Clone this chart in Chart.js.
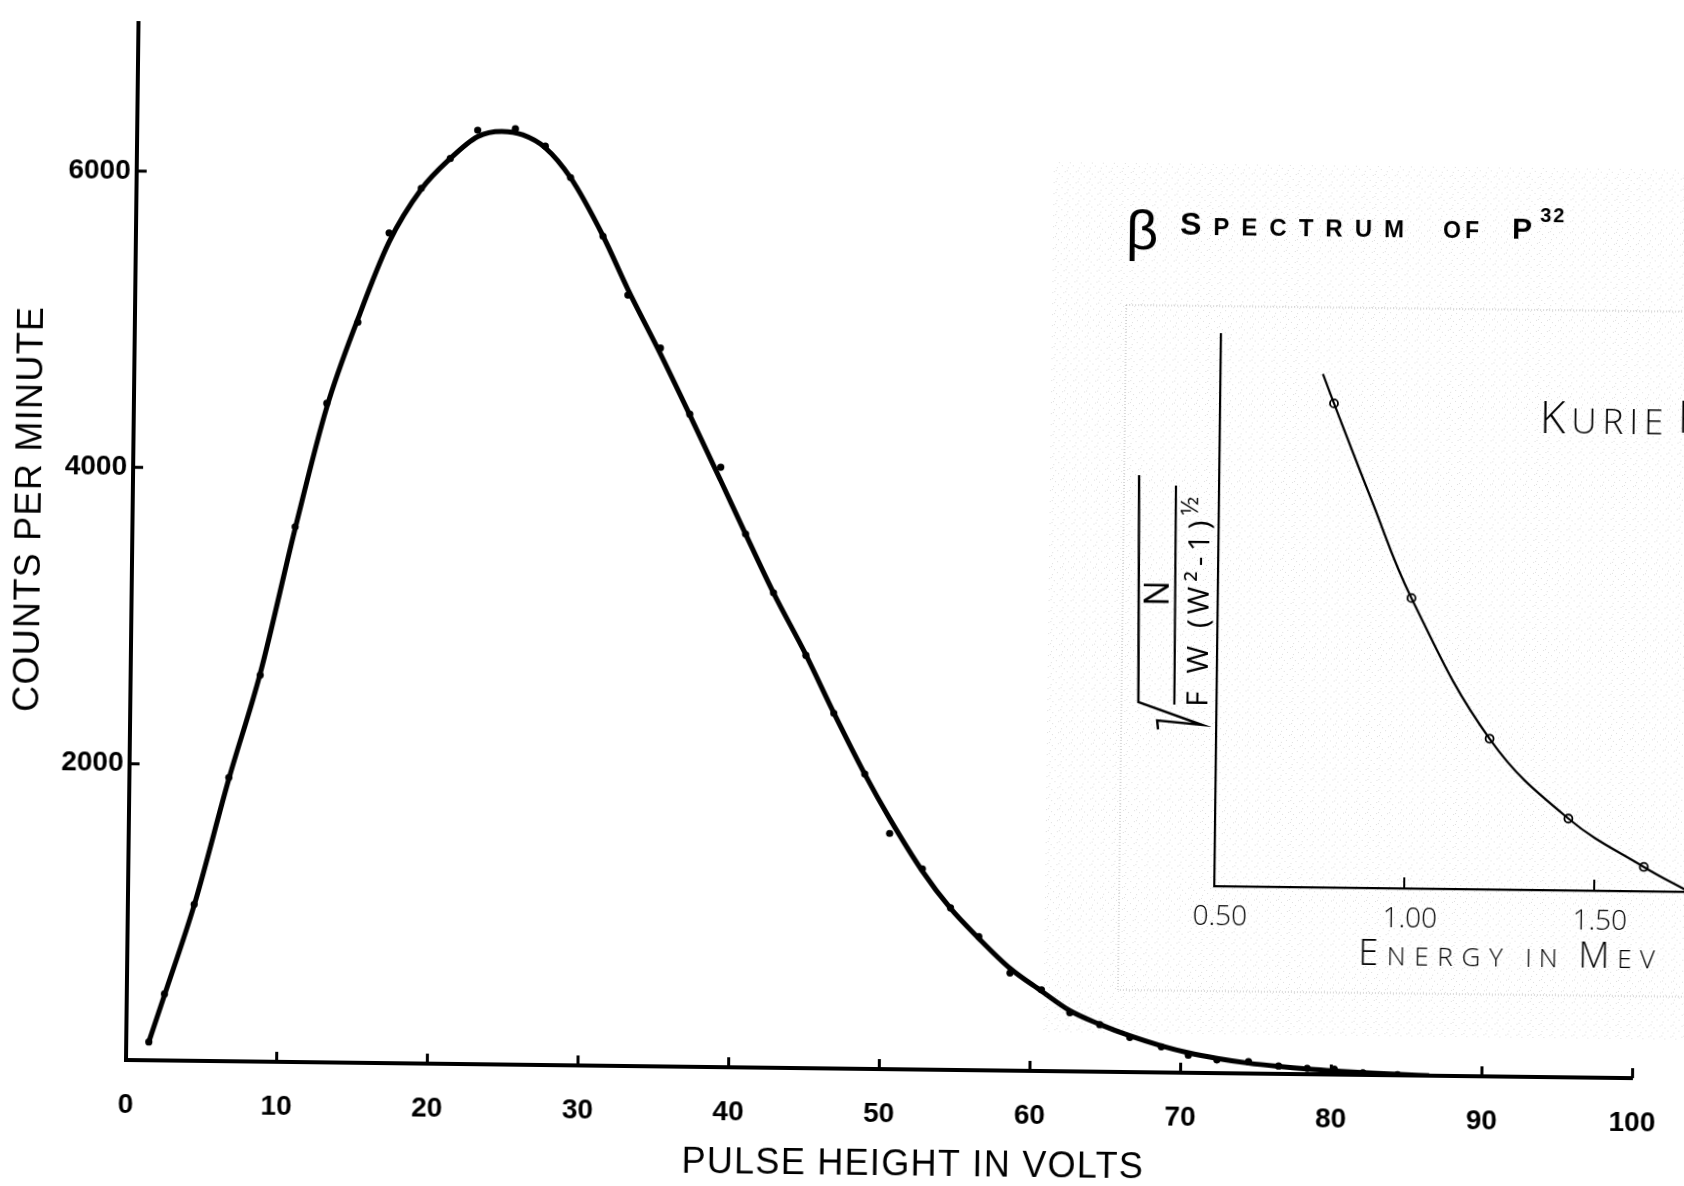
<!DOCTYPE html>
<html>
  <head>
    <title>Beta Spectrum of P32</title>
    <script src="https://cdn.jsdelivr.net/npm/chart.js@4"></script>
    <style>
      html, body { margin: 0; padding: 0; background: #fff; overflow: hidden; }
      /* the sheet sits slightly askew, like the original plate */
      #sheet { position: relative; width: 1684px; height: 1186px; transform: rotate(0.69deg); transform-origin: 126px 1060px; }
      #sheet canvas { position: absolute; left: 0; top: 0; }
    </style>
  </head>
  <body>
    <div id="sheet">
      <canvas id="spectrumChart" width="1684" height="1186"></canvas>
      <canvas id="kurieChart" width="1900" height="1186"></canvas>
    </div>

    <script>
      // pulse height spectrum, measured points
      const pulseVolts = [1.5, 2.5, 4.4, 6.6, 8.6, 10.8, 12.8, 14.8, 16.8, 18.9, 20.8, 22.6, 25.1, 27.1, 28.8, 31.0, 32.7, 34.9, 36.9, 39.0, 40.7, 42.6, 44.8, 46.7, 48.8, 50.5, 52.7, 54.6, 56.5, 58.6, 60.7, 62.6, 64.6, 66.6, 68.7, 70.5, 72.4, 74.5, 76.5, 78.4, 80.2, 82.1, 84.4];
      const pulseCounts = [124, 449, 1056, 1915, 2608, 3612, 4448, 4997, 5603, 5907, 6110, 6303, 6316, 6201, 5991, 5598, 5203, 4848, 4404, 4049, 3600, 3205, 2786, 2397, 1991, 1591, 1355, 1094, 902, 659, 548, 396, 318, 234, 173, 118, 89, 80, 53, 40, 36, 15, 5];

      // smooth curve drawn through the spectrum
      const curveVolts = [1.5, 2.5, 4.4, 6.6, 8.6, 10.8, 12.8, 14.8, 16.8, 18.9, 20.8, 22.6, 24.2, 25.6, 27.1, 28.8, 31.0, 32.7, 34.9, 36.9, 39.0, 40.7, 42.6, 44.8, 46.7, 48.8, 50.5, 52.7, 54.6, 56.5, 58.6, 60.7, 62.6, 64.6, 66.6, 68.7, 70.5, 72.4, 74.5, 76.5, 78.4, 80.2, 82.1, 84.4, 86.5];
      const curveCounts = [124, 440, 1050, 1905, 2620, 3600, 4420, 5020, 5540, 5900, 6110, 6260, 6297, 6275, 6190, 5990, 5600, 5240, 4810, 4400, 3960, 3600, 3205, 2790, 2400, 1990, 1690, 1340, 1090, 890, 690, 540, 410, 320, 245, 180, 135, 100, 70, 50, 35, 25, 15, 6, 0];

      const voltTicks = [0, 10, 20, 30, 40, 50, 60, 70, 80, 90, 100];
      const countTicks = [2000, 4000, 6000];

      // Kurie plot inset
      const kurieEnergy = [0.80, 1.01, 1.22, 1.43, 1.63];
      const kurieValue = [8.77, 5.26, 2.73, 1.30, 0.44];
      const kurieCurveEnergy = [0.77, 0.80, 0.90, 1.01, 1.22, 1.43, 1.63, 1.75];
      const kurieCurveValue = [9.30, 8.77, 7.06, 5.26, 2.73, 1.30, 0.44, 0.0];
      const energyTicks = [0.5, 1.0, 1.5];

      const BOLD = "'Liberation Sans', Arial, sans-serif";
      const THIN = "'Open Sans', Lato, 'DejaVu Sans', sans-serif";

      // draws text one letter at a time so small capitals can be spaced out
      function drawLettering(ctx, pieces, x, y, spacing) {
        pieces.forEach(([txt, font]) => {
          ctx.font = font;
          for (const ch of txt) {
            ctx.fillText(ch, x, y);
            x += ctx.measureText(ch).width + spacing;
          }
        });
        return x;
      }

      // tick marks point into the plot
      const inwardTicks = {
        id: "inwardTicks",
        afterDraw(chart, args, opts) {
          const { ctx, chartArea: a, scales } = chart;
          ctx.save();
          ctx.strokeStyle = "#000";
          ctx.lineWidth = opts.width;
          ctx.beginPath();
          scales.x.ticks.forEach((t) => {
            if (t.value <= scales.x.min) return;
            const px = scales.x.getPixelForValue(t.value);
            ctx.moveTo(px, a.bottom);
            ctx.lineTo(px, a.bottom - opts.length);
          });
          if (opts.yTicks) {
            scales.y.ticks.forEach((t) => {
              if (t.value <= scales.y.min) return;
              const py = scales.y.getPixelForValue(t.value);
              ctx.moveTo(a.left, py);
              ctx.lineTo(a.left + opts.length, py);
            });
          }
          ctx.stroke();
          ctx.restore();
        },
      };

      // hand lettered axis titles of the spectrum
      const spectrumTitles = {
        id: "spectrumTitles",
        afterDraw(chart) {
          const { ctx, chartArea: a } = chart;
          ctx.save();
          ctx.fillStyle = "#000";
          ctx.font = "36px " + BOLD;
          ctx.letterSpacing = "1.3px";
          ctx.textAlign = "center";
          ctx.textBaseline = "middle";
          ctx.fillText("PULSE HEIGHT IN VOLTS", a.left + 788, a.bottom + 96);
          ctx.translate(a.left - 102, a.bottom - 550);
          ctx.rotate(-Math.PI / 2);
          ctx.fillText("COUNTS PER MINUTE", 0, 0);
          ctx.restore();
        },
      };

      // stippled paste-up panel, heading and lettering of the inset
      function stipple(ctx) {
        const tile = document.createElement("canvas");
        tile.width = 11;
        tile.height = 11;
        const t = tile.getContext("2d");
        t.fillStyle = "rgba(110,110,110,0.22)";
        [[1, 2], [6, 0], [9, 6], [3, 8], [0, 5]].forEach(([i, j]) => t.fillRect(i, j, 1, 1));
        return ctx.createPattern(tile, "repeat");
      }

      const kurieDecor = {
        id: "kurieDecor",
        beforeDraw(chart) {
          const { ctx, chartArea: a, width } = chart;
          ctx.save();
          ctx.fillStyle = stipple(ctx);
          ctx.fillRect(a.left - 170, a.top - 170, width, a.bottom + 150 - (a.top - 170));
          ctx.setLineDash([1, 2]);
          ctx.strokeStyle = "#b4b4b4";
          ctx.lineWidth = 1;
          ctx.strokeRect(a.left - 95, a.top - 28, width, a.bottom + 105 - (a.top - 28));
          ctx.restore();
        },
        afterDraw(chart) {
          const { ctx, chartArea: a } = chart;
          const L = a.left, T = a.top, B = a.bottom;
          ctx.save();
          ctx.fillStyle = "#000";
          ctx.strokeStyle = "#000";
          ctx.textAlign = "left";
          ctx.textBaseline = "alphabetic";

          // heading
          ctx.font = "56px " + BOLD;
          ctx.fillText("β", L - 96, T - 84);
          drawLettering(ctx, [["S", "bold 32px " + BOLD], ["PECTRUM", "bold 24px " + BOLD]], L - 42, T - 99, 12);
          drawLettering(ctx, [["OF", "bold 23px " + BOLD]], L + 221, T - 99, 4);
          drawLettering(ctx, [["P", "bold 30px " + BOLD]], L + 290, T - 99, 0);
          drawLettering(ctx, [["32", "bold 20px " + BOLD]], L + 318, T - 116, 2);

          drawLettering(ctx, [["K", "300 44px " + THIN], ["URIE", "300 35px " + THIN]], L + 320, T + 95, 6);
          drawLettering(ctx, [["P", "300 44px " + THIN], ["LOT", "300 35px " + THIN]], L + 458, T + 93, 6);

          drawLettering(ctx, [["E", "300 36px " + THIN], ["NERGY", "300 26px " + THIN]], L + 145, B + 77, 8.7);
          drawLettering(ctx, [["IN", "300 26px " + THIN]], L + 312, B + 77, 7);
          drawLettering(ctx, [["M", "300 36px " + THIN], ["EV", "300 26px " + THIN]], L + 365, B + 77, 8);

          // y label: square root of N over F W (W^2-1)^1/2
          ctx.lineWidth = 2.4;
          ctx.beginPath();
          ctx.moveTo(L - 80, B - 410);
          ctx.lineTo(L - 78, B - 183);
          ctx.lineTo(L - 14, B - 161);
          ctx.lineTo(L - 59, B - 165);
          ctx.lineTo(L - 58, B - 156);
          ctx.stroke();
          ctx.lineWidth = 2.2;
          ctx.beginPath();
          ctx.moveTo(L - 43, B - 400);
          ctx.lineTo(L - 42, B - 181);
          ctx.stroke();

          ctx.save();
          ctx.translate(L - 59, B - 292);
          ctx.rotate(-Math.PI / 2);
          ctx.textAlign = "center";
          ctx.textBaseline = "middle";
          ctx.font = "400 34px " + THIN;
          ctx.fillText("N", 0, 0);
          ctx.restore();

          ctx.save();
          ctx.translate(L - 20, B - 291);
          ctx.rotate(-Math.PI / 2);
          const end = drawLettering(ctx, [["F W (W²-1)", "400 30px " + THIN]], -112, 11, 5);
          drawLettering(ctx, [["½", "400 24px " + THIN]], end, -1, 0);
          ctx.restore();

          ctx.restore();
        },
      };

      const toPoints = (xs, ys) => xs.map((x, i) => ({ x: x, y: ys[i] }));

      new Chart(document.getElementById("spectrumChart"), {
        type: "scatter",
        data: {
          datasets: [
            {
              label: "Curve",
              data: toPoints(curveVolts, curveCounts),
              showLine: true,
              borderColor: "#000",
              borderWidth: 5,
              pointRadius: 0,
              cubicInterpolationMode: "monotone",
            },
            {
              label: "Counts per minute",
              data: toPoints(pulseVolts, pulseCounts),
              pointRadius: 3.6,
              pointBackgroundColor: "#000",
              pointBorderColor: "#000",
              pointBorderWidth: 0,
            },
          ],
        },
        options: {
          responsive: false,
          animation: false,
          devicePixelRatio: 1,
          layout: { padding: { top: 13, right: 35, left: 0, bottom: 0 } },
          plugins: {
            legend: { display: false },
            tooltip: { enabled: false },
            inwardTicks: { width: 3, length: 10, yTicks: true },
          },
          scales: {
            x: {
              type: "linear",
              min: 0,
              max: 100,
              afterFit: (s) => { s.height = 126; },
              grid: { display: false, drawTicks: false },
              border: { display: true, color: "#000", width: 4 },
              ticks: {
                stepSize: 10,
                padding: 28,
                color: "#000",
                font: { family: BOLD, size: 28, weight: "bold" },
                callback: (v) => (voltTicks.includes(v) ? String(v) : null),
              },
            },
            y: {
              type: "linear",
              min: 0,
              max: 7000,
              afterFit: (s) => { s.width = 126; },
              grid: { display: false, drawTicks: false },
              border: { display: true, color: "#000", width: 4 },
              ticks: {
                stepSize: 1000,
                padding: 6,
                color: "#000",
                font: { family: BOLD, size: 28, weight: "bold" },
                callback: (v) => (countTicks.includes(v) ? String(v) : null),
              },
            },
          },
        },
        plugins: [inwardTicks, spectrumTitles],
      });

      new Chart(document.getElementById("kurieChart"), {
        type: "scatter",
        data: {
          datasets: [
            {
              label: "Kurie curve",
              data: toPoints(kurieCurveEnergy, kurieCurveValue),
              showLine: true,
              borderColor: "#000",
              borderWidth: 2.2,
              pointRadius: 0,
              tension: 0.4,
            },
            {
              label: "Kurie points",
              data: toPoints(kurieEnergy, kurieValue),
              pointRadius: 4,
              pointBackgroundColor: "rgba(255,255,255,0.6)",
              pointBorderColor: "#000",
              pointBorderWidth: 1.8,
            },
          ],
        },
        options: {
          responsive: false,
          animation: false,
          devicePixelRatio: 1,
          layout: { padding: { top: 321, right: 118, left: 0, bottom: 0 } },
          plugins: {
            legend: { display: false },
            tooltip: { enabled: false },
            inwardTicks: { width: 2, length: 11, yTicks: false },
          },
          scales: {
            x: {
              type: "linear",
              min: 0.5,
              max: 2.0,
              afterFit: (s) => { s.height = 313; },
              grid: { display: false, drawTicks: false },
              border: { display: true, color: "#000", width: 2.2 },
              ticks: {
                stepSize: 0.5,
                padding: 14,
                labelOffset: 6,
                color: "#000",
                font: { family: THIN, size: 28, weight: 300 },
                callback: (v) => (energyTicks.includes(v) ? v.toFixed(2) : null),
              },
            },
            y: {
              type: "linear",
              min: 0,
              max: 10,
              afterFit: (s) => { s.width = 1212; },
              grid: { display: false, drawTicks: false },
              border: { display: true, color: "#000", width: 2.2 },
              ticks: { display: false },
            },
          },
        },
        plugins: [inwardTicks, kurieDecor],
      });
    </script>
  </body>
</html>
